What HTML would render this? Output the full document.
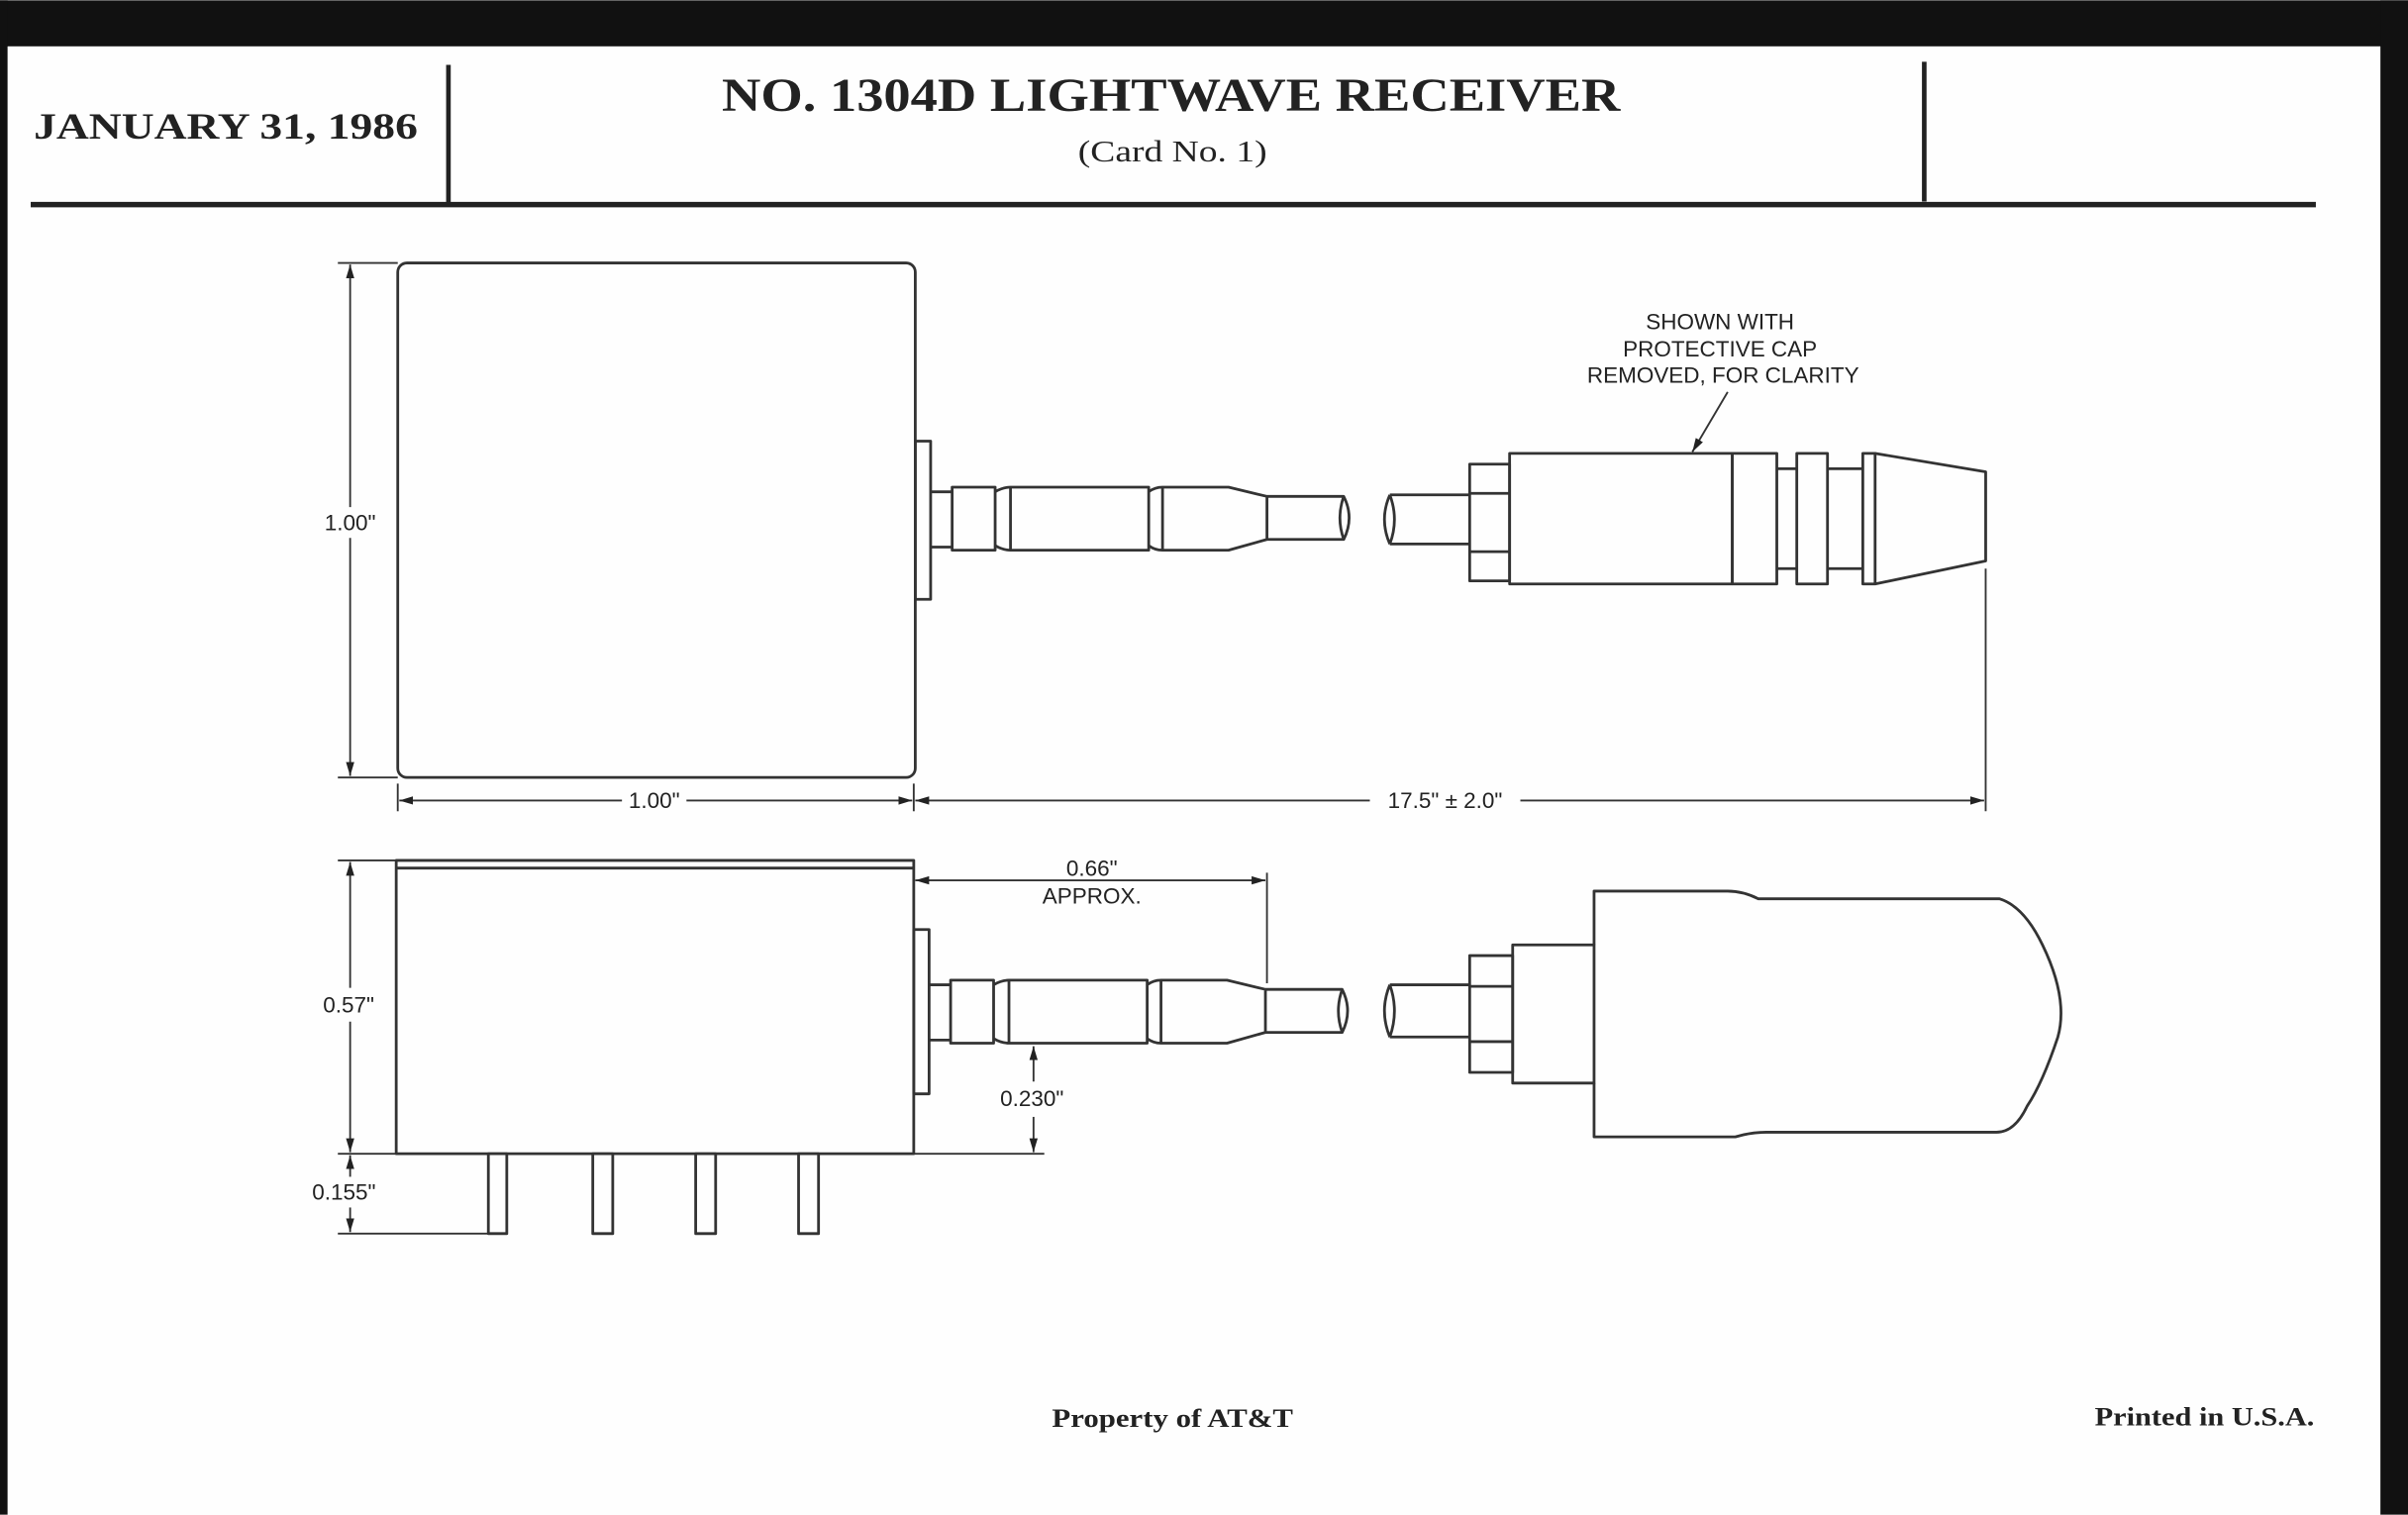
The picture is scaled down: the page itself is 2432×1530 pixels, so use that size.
<!DOCTYPE html>
<html><head><meta charset="utf-8"><style>
html,body{margin:0;padding:0;background:#fff}
svg{display:block}
.s{font-family:"Liberation Serif",serif;font-weight:bold;fill:#222}
.d{font-family:"Liberation Sans",sans-serif;font-size:14.5px;fill:#222}
</style></head><body>
<svg width="2432" height="1530" viewBox="0 0 1568 986" xmlns="http://www.w3.org/2000/svg">
<defs>
<marker id="a" viewBox="0 0 10 10" refX="10" refY="5" markerWidth="9" markerHeight="9" orient="auto-start-reverse" markerUnits="userSpaceOnUse"><path d="M0,2 L10,5 L0,8 z" fill="#222"/></marker>
</defs>
<rect width="1568" height="986" fill="#fff"/>
<rect x="0" y="0" width="1568" height="30" fill="#111"/>
<rect x="0" y="0" width="5" height="986" fill="#111"/>
<rect x="1550" y="0" width="18" height="986" fill="#111"/>
<rect x="5" y="30" width="1545" height="956" fill="#fefefe"/>
<g stroke="#222" fill="none">
<line x1="20" y1="133" x2="1508" y2="133" stroke-width="3.5"/>
<line x1="292" y1="42" x2="292" y2="133" stroke-width="3"/>
<line x1="1253" y1="40" x2="1253" y2="131" stroke-width="3"/>
</g>
<text class="s" x="22" y="90" font-size="24" textLength="250" lengthAdjust="spacingAndGlyphs">JANUARY 31, 1986</text>
<text class="s" x="470" y="72" font-size="31" textLength="585" lengthAdjust="spacingAndGlyphs">NO. 1304D LIGHTWAVE RECEIVER</text>
<text x="702" y="105" font-size="20" font-family="Liberation Serif,serif" fill="#222" textLength="123" lengthAdjust="spacingAndGlyphs">(Card No. 1)</text>

<g stroke="#333" stroke-width="1.8" fill="none" stroke-linejoin="round">
<rect x="259" y="171" width="337" height="335" rx="6"/>
<rect x="596" y="287" width="10" height="103"/>
<path d="M606,320 H620 M606,356 H620 M620,317 H648 V358 H620 Z M648,320 Q653,317 658,317 M648,355 Q653,358 658,358 M658,317 H748 V358 H658 Z M748,320 Q752,317 757,317 M748,355 Q752,358 757,358 M757,317 H800 L825,323 H875 Q882,337 875,351 H825 L800,358 H757 Z M825,323 V351 M875,323 Q870,337 875,351"/>
<path d="M905,322 H957 M905,354 H957 M905,322 Q898,338 905,354 M905,322 Q911,338 905,354"/>
<rect x="957" y="302" width="26" height="76"/>
<line x1="957" y1="321" x2="983" y2="321"/><line x1="957" y1="359" x2="983" y2="359"/>
<rect x="983" y="295" width="145" height="85"/>
<line x1="1128" y1="295" x2="1128" y2="380"/>
<path d="M1128,295 H1157 V380 H1128 M1157,305 H1170 M1157,370 H1170"/>
<rect x="1170" y="295" width="20" height="85"/>
<path d="M1190,305 H1213 M1190,370 H1213"/>
<rect x="1213" y="295" width="8" height="85"/>
<path d="M1221,295 L1293,307 V365 L1221,380"/>
<rect x="258" y="560" width="337" height="191"/>
<line x1="258" y1="565" x2="595" y2="565"/>
<rect x="595" y="605" width="10" height="107"/>
<g transform="translate(-1,321)"><path d="M606,320 H620 M606,356 H620 M620,317 H648 V358 H620 Z M648,320 Q653,317 658,317 M648,355 Q653,358 658,358 M658,317 H748 V358 H658 Z M748,320 Q752,317 757,317 M748,355 Q752,358 757,358 M757,317 H800 L825,323 H875 Q882,337 875,351 H825 L800,358 H757 Z M825,323 V351 M875,323 Q870,337 875,351"/></g>
<path d="M905,641 H957 M905,675 H957 M905,641 Q898,658 905,675 M905,641 Q911,658 905,675"/>
<rect x="957" y="622" width="28" height="76"/>
<line x1="957" y1="642" x2="985" y2="642"/><line x1="957" y1="678" x2="985" y2="678"/>
<rect x="985" y="615" width="53" height="90"/>
<path d="M1038,615 V580 H1125 Q1135,580 1145,585 H1302 Q1318,590 1330,615 Q1347,650 1340,675 Q1330,705 1320,720 Q1312,737 1300,737 H1150 Q1140,737 1130,740 H1038 V705"/>
<rect x="318" y="751" width="12" height="52"/>
<rect x="386" y="751" width="13" height="52"/>
<rect x="453" y="751" width="13" height="52"/>
<rect x="520" y="751" width="13" height="52"/>
</g>

<g stroke="#333" stroke-width="1.2" fill="none">
<line x1="220" y1="171" x2="259" y2="171"/><line x1="220" y1="506" x2="259" y2="506"/>
<line x1="228" y1="172" x2="228" y2="330" marker-start="url(#a)"/>
<line x1="228" y1="350" x2="228" y2="505" marker-end="url(#a)"/>
<line x1="259" y1="510" x2="259" y2="528"/><line x1="595" y1="510" x2="595" y2="528"/>
<line x1="1293" y1="370" x2="1293" y2="528"/>
<line x1="260" y1="521" x2="405" y2="521" marker-start="url(#a)"/>
<line x1="447" y1="521" x2="594" y2="521" marker-end="url(#a)"/>
<line x1="596" y1="521" x2="892" y2="521" marker-start="url(#a)"/>
<line x1="990" y1="521" x2="1292" y2="521" marker-end="url(#a)"/>
<line x1="220" y1="560" x2="258" y2="560"/><line x1="220" y1="751" x2="258" y2="751"/>
<line x1="220" y1="803" x2="318" y2="803"/>
<line x1="228" y1="561" x2="228" y2="643" marker-start="url(#a)"/>
<line x1="228" y1="665" x2="228" y2="750" marker-end="url(#a)"/>
<line x1="228" y1="752" x2="228" y2="766" marker-start="url(#a)"/>
<line x1="228" y1="786" x2="228" y2="802" marker-end="url(#a)"/>
<line x1="825" y1="568" x2="825" y2="640"/>
<line x1="596" y1="573" x2="824" y2="573" marker-start="url(#a)" marker-end="url(#a)"/>
<line x1="595" y1="751" x2="680" y2="751"/>
<line x1="673" y1="681" x2="673" y2="704" marker-start="url(#a)"/>
<line x1="673" y1="727" x2="673" y2="750" marker-end="url(#a)"/>
<line x1="1125" y1="255" x2="1102" y2="294" marker-end="url(#a)"/>
</g>
<g class="d">
<text x="228" y="345" text-anchor="middle">1.00"</text>
<text x="426" y="526" text-anchor="middle">1.00"</text>
<text x="941" y="526" text-anchor="middle">17.5" ± 2.0"</text>
<text x="227" y="659" text-anchor="middle">0.57"</text>
<text x="224" y="781" text-anchor="middle">0.155"</text>
<text x="711" y="570" text-anchor="middle">0.66"</text>
<text x="711" y="588" text-anchor="middle">APPROX.</text>
<text x="672" y="720" text-anchor="middle">0.230"</text>
<text x="1120" y="214" text-anchor="middle">SHOWN WITH</text>
<text x="1120" y="232" text-anchor="middle">PROTECTIVE CAP</text>
<text x="1122" y="249" text-anchor="middle">REMOVED, FOR CLARITY</text>
</g>
<text class="s" x="685" y="929" font-size="17" textLength="157" lengthAdjust="spacingAndGlyphs">Property of AT&amp;T</text>
<text class="s" x="1364" y="928" font-size="17" textLength="143" lengthAdjust="spacingAndGlyphs">Printed in U.S.A.</text>
</svg>
</body></html>
